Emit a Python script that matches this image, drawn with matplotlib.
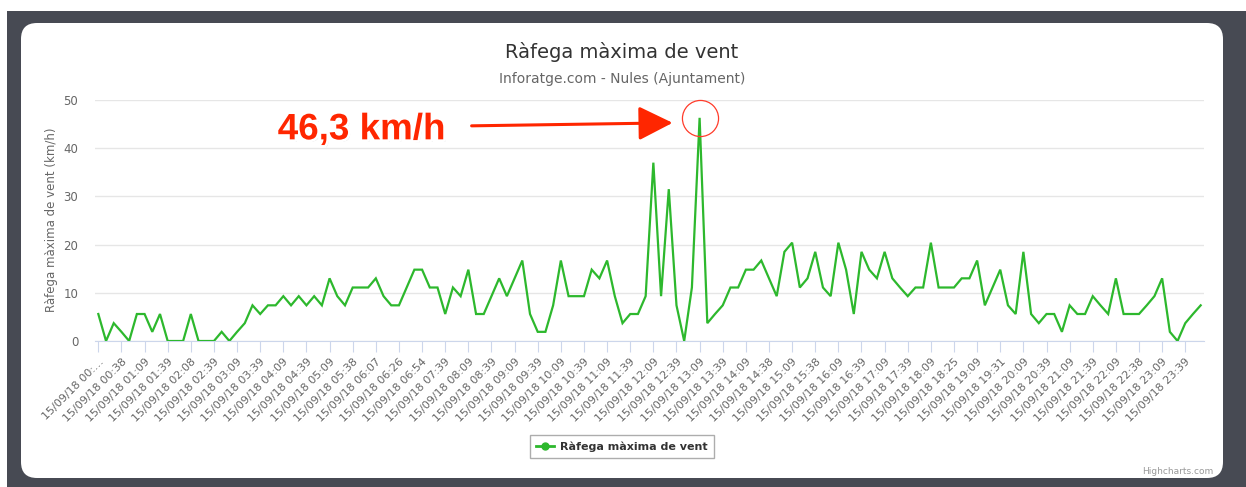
import numpy as np
import matplotlib
matplotlib.use('Agg')
import matplotlib.pyplot as plt
import matplotlib.patheffects as pe
from matplotlib.patches import FancyBboxPatch, Rectangle
from matplotlib.transforms import IdentityTransform, offset_copy
from matplotlib.lines import Line2D

plt.rcParams['font.family'] = ['DejaVu Sans']

title = 'Ràfega màxima de vent'
subtitle = 'Inforatge.com - Nules (Ajuntament)'
y_label = 'Ràfega màxima de vent (km/h)'
series_name = 'Ràfega màxima de vent'
peak_label = '46,3 km/h'

# one reading every ~10 min, gust in km/h
gusts = [
    5.6, 0, 3.7, 1.9, 0, 5.6, 5.6, 1.9, 5.6, 0,
    0, 0, 5.6, 0, 0, 0, 1.9, 0, 1.9, 3.7,
    7.4, 5.6, 7.4, 7.4, 9.3, 7.4, 9.3, 7.4, 9.3, 7.4,
    13.0, 9.3, 7.4, 11.1, 11.1, 11.1, 13.0, 9.3, 7.4, 7.4,
    11.1, 14.8, 14.8, 11.1, 11.1, 5.6, 11.1, 9.3, 14.8, 5.6,
    5.6, 9.3, 13.0, 9.3, 13.0, 16.7, 5.6, 1.9, 1.9, 7.4,
    16.7, 9.3, 9.3, 9.3, 14.8, 13.0, 16.7, 9.3, 3.7, 5.6,
    5.6, 9.3, 37.0, 9.3, 31.5, 7.4, 0, 11.1, 46.3, 3.7,
    5.6, 7.4, 11.1, 11.1, 14.8, 14.8, 16.7, 13.0, 9.3, 18.5,
    20.4, 11.1, 13.0, 18.5, 11.1, 9.3, 20.4, 14.8, 5.6, 18.5,
    14.8, 13.0, 18.5, 13.0, 11.1, 9.3, 11.1, 11.1, 20.4, 11.1,
    11.1, 11.1, 13.0, 13.0, 16.7, 7.4, 11.1, 14.8, 7.4, 5.6,
    18.5, 5.6, 3.7, 5.6, 5.6, 1.9, 7.4, 5.6, 5.6, 9.3,
    7.4, 5.6, 13.0, 5.6, 5.6, 5.6, 7.4, 9.3, 13.0, 1.9,
    0, 3.7, 5.6, 7.4,
]

# shown category labels (every 3rd reading)
tick_labels = [
    '00:…', '00:38', '01:09', '01:39', '02:08', '02:39', '03:09', '03:39',
    '04:09', '04:39', '05:09', '05:38', '06:07', '06:26', '06:54', '07:39',
    '08:09', '08:39', '09:09', '09:39', '10:09', '10:39', '11:09', '11:39',
    '12:09', '12:39', '13:09', '13:39', '14:09', '14:38', '15:09', '15:38',
    '16:09', '16:39', '17:09', '17:39', '18:09', '18:25', '19:09', '19:31',
    '20:09', '20:39', '21:09', '21:39', '22:09', '22:38', '23:09', '23:39',
]
date_prefix = '15/09/18 '

W, H = 1246, 487
fig = plt.figure(figsize=(W / 100, H / 100), dpi=100)
fig.patch.set_facecolor('white')

# dark frame + white rounded card (pixel coords, origin bottom-left)
fig.patches.append(Rectangle((7, 0), W - 7, H - 11, transform=IdentityTransform(),
                             facecolor='#474a53', edgecolor='none', zorder=-3))
fig.patches.append(FancyBboxPatch((21, H - 478), 1223 - 21, 478 - 23,
                                  boxstyle='round,pad=0,rounding_size=16',
                                  transform=IdentityTransform(),
                                  facecolor='white', edgecolor='none', zorder=-2))

left, right, top, bottom = 95, 1204, 100, 341
ax = fig.add_axes([left / W, (H - bottom) / H, (right - left) / W, (bottom - top) / H])
ax.set_facecolor('none')

x = np.arange(len(gusts))
ax.plot(x, gusts, color='#2db82d', lw=1.6, zorder=3, solid_joinstyle='miter')

ax.set_xlim(-0.43, len(gusts) - 1 + 0.43)
ax.set_ylim(0, 50)
ax.set_yticks(np.arange(0, 51, 10))
ax.grid(axis='y', color='#e6e6e6', lw=1)
ax.set_axisbelow(True)
for s in ['top', 'right', 'left']:
    ax.spines[s].set_visible(False)
ax.spines['bottom'].set_color('#ccd6eb')
ax.tick_params(axis='y', length=0, labelsize=8.5, labelcolor='#666666', pad=12)

ax.set_xticks(x[::3])
ax.set_xticklabels([date_prefix + t for t in tick_labels], rotation=45, ha='right',
                   rotation_mode='anchor', fontsize=8, color='#666666')
ax.tick_params(axis='x', direction='out', length=8, color='#ccd6eb', pad=3)

fig.text(52 / W, 1 - 220 / H, y_label, rotation=90, ha='center', va='center',
         fontsize=8.5, color='#666666')
fig.text(622 / W, 1 - 52 / H, title, ha='center', va='center', fontsize=14, color='#333333')
fig.text(622 / W, 1 - 79 / H, subtitle, ha='center', va='center', fontsize=10, color='#666666')
fig.text(1213 / W, 1 - 471 / H, 'Highcharts.com', ha='right', va='center',
         fontsize=6.5, color='#999999')

# peak highlight
i_max = int(np.argmax(gusts))
v_max = gusts[i_max]
ax.plot(i_max, v_max, 'o', ms=26, mfc='none', mec='#ff3b2a', mew=0.9, zorder=4, clip_on=False)
tip = offset_copy(ax.transData, fig=fig, x=-27, y=-5, units='dots')
ax.annotate('', xy=(i_max, v_max), xycoords=tip,
            xytext=(-201, -3), textcoords='offset pixels',
            arrowprops=dict(arrowstyle='-|>,head_length=2.1,head_width=1.05',
                            mutation_scale=10, color='#ff2600', lw=2.2,
                            shrinkA=0, shrinkB=0), zorder=5)
ax.annotate(peak_label, xy=(i_max, v_max), xycoords='data',
            xytext=(-338, -12), textcoords='offset pixels',
            ha='center', va='center', fontsize=26.5, fontweight='bold',
            family=['Liberation Sans', 'DejaVu Sans'], color='#ff2600', zorder=5,
            path_effects=[pe.withSimplePatchShadow(offset=(1.5, -1.5), shadow_rgbFace='#888888', alpha=0.35),
                          pe.Stroke(linewidth=4, foreground='white'), pe.Normal()])

handle = Line2D([], [], color='#2db82d', lw=2, marker='o', ms=5)
leg = fig.legend([handle], [series_name], loc='center',
                 bbox_to_anchor=(622 / W, 1 - 446.5 / H), frameon=True, fancybox=False,
                 prop={'size': 8, 'weight': 'bold'}, handlelength=1.6, borderpad=0.55,
                 handletextpad=0.6)
leg.get_frame().set_edgecolor('#999999')
leg.get_frame().set_linewidth(1)
for t in leg.get_texts():
    t.set_color('#333333')

fig.savefig('out.png', dpi=100)
